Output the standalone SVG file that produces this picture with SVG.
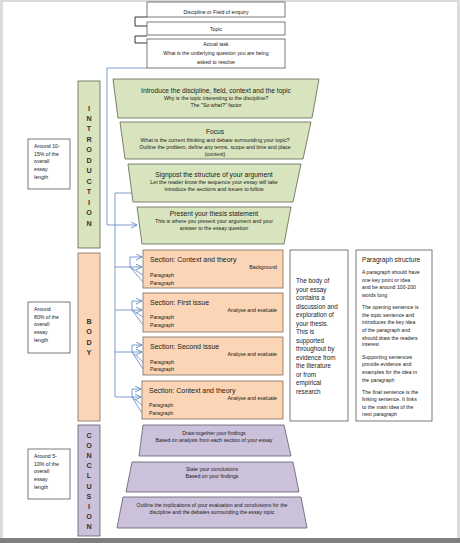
<svg xmlns="http://www.w3.org/2000/svg" width="460" height="543" viewBox="0 0 460 543">
<defs>
<marker id="ab" markerWidth="8" markerHeight="8" refX="6" refY="3" orient="auto" markerUnits="userSpaceOnUse"><path d="M0,0 L6,3 L0,6" fill="none" stroke="#4f81bd" stroke-width="0.8"/></marker>
<marker id="ak" markerWidth="8" markerHeight="8" refX="6" refY="3" orient="auto" markerUnits="userSpaceOnUse"><path d="M0,0 L6,3 L0,6" fill="none" stroke="#000" stroke-width="0.8"/></marker>
<style>
text{font-family:"Liberation Sans",Arial,sans-serif;fill:#1a1a1a}
.box{fill:#fff;stroke:#595959;stroke-width:0.8}
.g{fill:#d7e4bd;stroke:#5f6350;stroke-width:0.8}
.o{fill:#fbd5b5;stroke:#7f6b5e;stroke-width:0.8}
.p{fill:#ccc1da;stroke:#5f5a6a;stroke-width:0.8}
.c{text-anchor:middle}
.t{font-size:6.7px}
.st{font-size:7px}
.s{font-size:5.3px}
.sm{font-size:5.2px}
.L{font-size:7.2px;text-anchor:middle;font-weight:bold;fill:#333}
.blue{fill:none;stroke:#5b86c2;stroke-width:0.8}
.blk{fill:none;stroke:#000;stroke-width:0.8}
</style>
</defs>
<rect width="460" height="543" fill="#fff"/>
<rect x="0" y="0" width="460" height="2" fill="#d9d9d9"/>
<rect x="0" y="0" width="3" height="543" fill="#dcdcdc"/>
<rect x="457" y="0" width="3" height="543" fill="#dcdcdc"/>
<rect x="0" y="538" width="460" height="5" fill="#7f7f7f"/>

<g id="connectors">
<path class="blk" d="M147,17 H135 V26 H163" marker-end="url(#ak)"/>
<path class="blk" d="M147,36 H135 V43 H163" marker-end="url(#ak)"/>
<path class="blue" d="M147,68 H107 V225 H137" marker-end="url(#ab)" stroke="#8eaadb"/>
<path class="blue" d="M133,193 H115 V397"/>
<path class="blue" d="M115,267 H142" marker-end="url(#ab)"/>
<path class="blue" d="M130,267 V257 H142" marker-end="url(#ab)"/>
<path class="blue" d="M130,267 L143,275 M130,267 L143,282"/>
<path class="blue" d="M115,310 H142" marker-end="url(#ab)"/>
<path class="blue" d="M132,310 V301 H142" marker-end="url(#ab)"/>
<path class="blue" d="M132,310 L143,317 M132,310 L143,325"/>
<path class="blue" d="M115,352 H142" marker-end="url(#ab)"/>
<path class="blue" d="M132,352 V345 H142" marker-end="url(#ab)"/>
<path class="blue" d="M132,352 L143,362 M132,352 L143,369"/>
<path class="blue" d="M115,397 H141" marker-end="url(#ab)"/>
<path class="blue" d="M132,397 V389 H141" marker-end="url(#ab)"/>
<path class="blue" d="M132,397 L142,405 M132,397 L142,413"/>
</g>

<g id="discipline">
<rect class="box" x="147" y="2" width="138" height="15"/>
<text class="sm c" x="216" y="14">Discipline or Field of enquiry</text>
</g>
<g id="topic">
<rect class="box" x="147" y="22" width="138" height="13"/>
<text class="sm c" x="216" y="30.8">Topic</text>
</g>
<g id="task">
<rect class="box" x="147" y="39" width="138" height="29"/>
<text class="sm c" x="216" y="46">Actual task</text>
<text class="sm c" x="216" y="55">What is the underlying question you are being</text>
<text class="sm c" x="216" y="63.5">asked to resolve</text>
</g>

<g id="intro-bar">
<rect class="g" x="78" y="81" width="22" height="167"/>
<text class="L" x="89" y="110.5">I</text>
<text class="L" x="89" y="121">N</text>
<text class="L" x="89" y="131.4">T</text>
<text class="L" x="89" y="141.9">R</text>
<text class="L" x="89" y="152.3">O</text>
<text class="L" x="89" y="162.8">D</text>
<text class="L" x="89" y="173.2">U</text>
<text class="L" x="89" y="183.7">C</text>
<text class="L" x="89" y="194.1">T</text>
<text class="L" x="89" y="204.6">I</text>
<text class="L" x="89" y="215">O</text>
<text class="L" x="89" y="225.5">N</text>
</g>
<g id="intro-len">
<rect class="box" x="28" y="139" width="42" height="50"/>
<text class="sm" x="34" y="148">Around 10-</text>
<text class="sm" x="34" y="155.5">15% of the</text>
<text class="sm" x="34" y="163">overall</text>
<text class="sm" x="34" y="170.5">essay</text>
<text class="sm" x="34" y="178.5">length</text>
</g>

<g id="introduce">
<polygon class="g" points="113,79 319,79 312,118 118,118"/>
<text class="t c" x="216" y="92.5">Introduce the discipline, field, context and the topic</text>
<text class="s c" x="216" y="100">Why is the topic interesting to the discipline?</text>
<text class="s c" x="216" y="107">The "So what?" factor</text>
</g>
<g id="focus">
<polygon class="g" points="120,122 311,122 303,159 125,159"/>
<text class="t c" x="215" y="134.3">Focus</text>
<text class="s c" x="215" y="141.8">What is the current thinking and debate surrounding your topic?</text>
<text class="s c" x="215" y="149">Outline the problem, define any terms, scope and time and place</text>
<text class="s c" x="215" y="156">(context)</text>
</g>
<g id="signpost">
<polygon class="g" points="128,164 301,164 293,202 133,202"/>
<text class="t c" x="214" y="177.3">Signpost the structure of your argument</text>
<text class="s c" x="214" y="184">Let the reader know the sequence your essay will take</text>
<text class="s c" x="214" y="191">introduce the sections and issues to follow</text>
</g>
<g id="thesis">
<polygon class="g" points="137,207 291,207 284,244 142,244"/>
<text class="t c" x="214" y="216.3">Present your thesis statement</text>
<text class="s c" x="214" y="223">This is where you present your argument and your</text>
<text class="s c" x="214" y="230">answer to the essay question</text>
</g>

<g id="body-bar">
<rect class="o" x="78" y="253" width="22" height="168"/>
<text class="L" x="89" y="323.5">B</text>
<text class="L" x="89" y="334">O</text>
<text class="L" x="89" y="344.5">D</text>
<text class="L" x="89" y="355">Y</text>
</g>
<g id="body-len">
<rect class="box" x="28" y="302" width="42" height="51"/>
<text class="sm" x="34" y="311">Around</text>
<text class="sm" x="34" y="318.5">80% of the</text>
<text class="sm" x="34" y="326">overall</text>
<text class="sm" x="34" y="333.5">essay</text>
<text class="sm" x="34" y="341.5">length</text>
</g>

<g id="section1">
<rect class="o" x="143" y="250" width="140" height="38"/>
<text class="st" x="150" y="261.7">Section: Context and theory</text>
<text class="sm" x="277" y="269" text-anchor="end">Background</text>
<text class="sm" x="150" y="277">Paragraph</text>
<text class="sm" x="150" y="284.5">Paragraph</text>
</g>
<g id="section2">
<rect class="o" x="143" y="293" width="140" height="39"/>
<text class="st" x="150" y="304.7">Section: First issue</text>
<text class="sm" x="277" y="312" text-anchor="end">Analyse and evaluate</text>
<text class="sm" x="150" y="319">Paragraph</text>
<text class="sm" x="150" y="327">Paragraph</text>
</g>
<g id="section3">
<rect class="o" x="143" y="337" width="140" height="38"/>
<text class="st" x="150" y="348.7">Section: Second issue</text>
<text class="sm" x="277" y="356" text-anchor="end">Analyse and evaluate</text>
<text class="sm" x="150" y="364">Paragraph</text>
<text class="sm" x="150" y="371">Paragraph</text>
</g>
<g id="section4">
<rect class="o" x="142" y="381" width="141" height="38"/>
<text class="st" x="149" y="392.7">Section: Context and theory</text>
<text class="sm" x="277" y="400" text-anchor="end">Analyse and evaluate</text>
<text class="sm" x="149" y="407">Paragraph</text>
<text class="sm" x="149" y="415">Paragraph</text>
</g>

<g id="body-text">
<rect class="box" x="290" y="250" width="58" height="171"/>
<g style="font-size:6.3px">
<text x="296" y="283">The body of</text>
<text x="296" y="291.5">your essay</text>
<text x="296" y="300">contains a</text>
<text x="296" y="308.5">discussion and</text>
<text x="296" y="317">exploration of</text>
<text x="296" y="325.5">your thesis.</text>
<text x="296" y="334">This is</text>
<text x="296" y="342.5">supported</text>
<text x="296" y="351">throughout by</text>
<text x="296" y="359.5">evidence from</text>
<text x="296" y="368">the literature</text>
<text x="296" y="376.5">or from</text>
<text x="296" y="385">empirical</text>
<text x="296" y="393.5">research</text>
</g>
</g>

<g id="paragraph-structure">
<rect class="box" x="356" y="250" width="76" height="171"/>
<text x="362" y="261.5" style="font-size:6.6px">Paragraph structure</text>
<g style="font-size:5.2px">
<text x="362" y="273.5">A paragraph should have</text>
<text x="362" y="281.5">one key point or idea</text>
<text x="362" y="289">and be around 100-200</text>
<text x="362" y="296.8">words long</text>
<text x="362" y="308.8">The opening sentence is</text>
<text x="362" y="316.5">the topic sentence and</text>
<text x="362" y="324">introduces the key idea</text>
<text x="362" y="331.8">of the paragraph and</text>
<text x="362" y="339.5">should draw the readers</text>
<text x="362" y="346">interest</text>
<text x="362" y="358.8">Supporting sentences</text>
<text x="362" y="366">provide evidence and</text>
<text x="362" y="373.8">examples for the idea in</text>
<text x="362" y="381.5">the paragraph</text>
<text x="362" y="393.5">The final sentence is the</text>
<text x="362" y="400.8">linking sentence. It links</text>
<text x="362" y="408.8">to the main idea of the</text>
<text x="362" y="416">next paragraph</text>
</g>
</g>

<g id="conclusion-bar">
<rect class="p" x="78" y="425" width="22" height="111"/>
<text class="L" x="89" y="437.5">C</text>
<text class="L" x="89" y="447.7">O</text>
<text class="L" x="89" y="457.9">N</text>
<text class="L" x="89" y="468.1">C</text>
<text class="L" x="89" y="478.3">L</text>
<text class="L" x="89" y="488.5">U</text>
<text class="L" x="89" y="498.7">S</text>
<text class="L" x="89" y="508.9">I</text>
<text class="L" x="89" y="519.1">O</text>
<text class="L" x="89" y="529.3">N</text>
</g>
<g id="conclusion-len">
<rect class="box" x="28" y="449" width="42" height="50"/>
<text class="sm" x="34" y="458">Around 5-</text>
<text class="sm" x="34" y="465.5">10% of the</text>
<text class="sm" x="34" y="473">overall</text>
<text class="sm" x="34" y="480.5">essay</text>
<text class="sm" x="34" y="488.5">length</text>
</g>

<g id="findings">
<polygon class="p" points="143,425 284,425 291,456 139,456"/>
<text class="sm c" x="214" y="435">Draw together your findings</text>
<text class="sm c" x="214" y="442">Based on analysis from each section of your essay</text>
</g>
<g id="conclusions">
<polygon class="p" points="132,462 293,462 299,492 126,492"/>
<text class="sm c" x="212" y="471">State your conclusions</text>
<text class="sm c" x="212" y="478">Based on your findings</text>
</g>
<g id="implications">
<polygon class="p" points="123,497 301,497 307,528 117,528"/>
<text class="sm c" x="212" y="507">Outline the implications of your evaluation and conclusions for the</text>
<text class="sm c" x="212" y="514">discipline and the debates surrounding the essay topic</text>
</g>
</svg>
